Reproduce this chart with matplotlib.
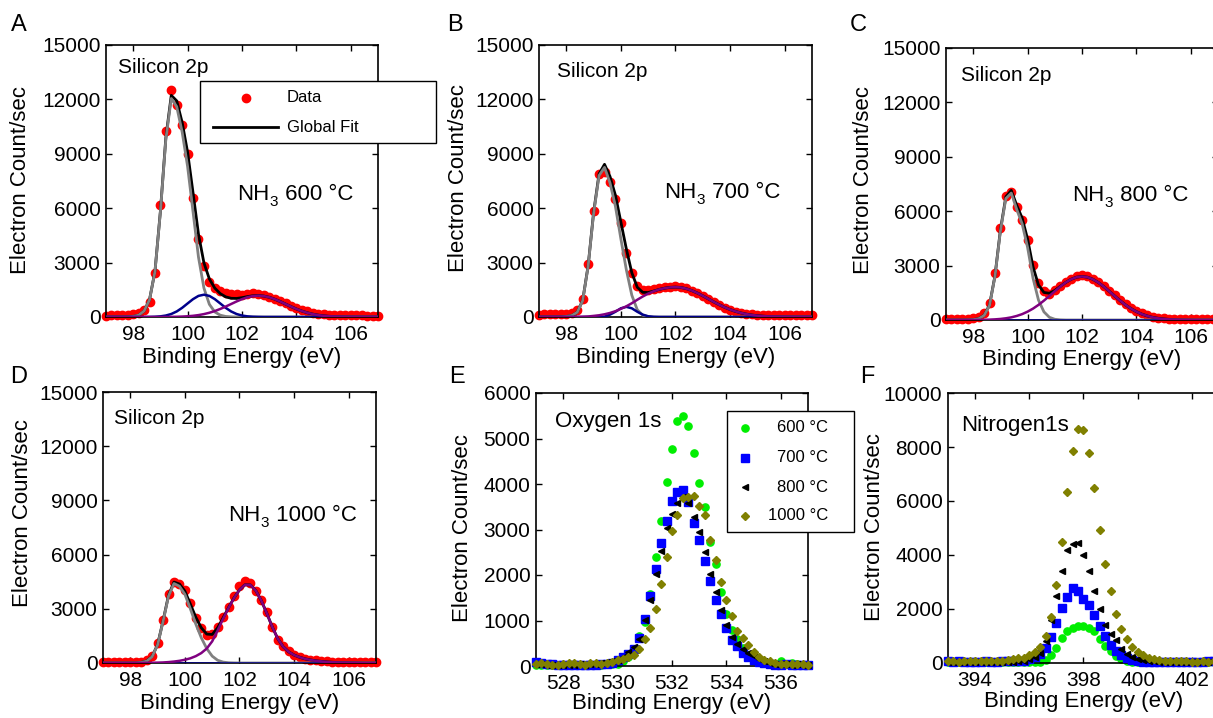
import numpy as np
import matplotlib
matplotlib.use("Agg")
import matplotlib.pyplot as plt
from matplotlib.patches import Rectangle
from matplotlib.lines import Line2D
from matplotlib.transforms import IdentityTransform

plt.rcParams['font.family'] = ['Liberation Sans', 'DejaVu Sans']

W, H = 1213, 718

# ---------------- energy axes (eV) ----------------
si_energy = np.round(np.arange(97.0, 107.01, 0.2), 1)
o_energy = np.round(np.arange(527.0, 537.01, 0.2), 1)
n_energy = np.round(np.arange(393.0, 403.01, 0.2), 1)

# ---------------- Silicon 2p, NH3 600 C ----------------
A_data = [80, 90, 100, 110, 130,
          160, 220, 370, 850, 2430,
          6200, 10250, 12500, 11670, 10580,
          8980, 6550, 4320, 2820, 1930,
          1600, 1420, 1330, 1280, 1250,
          1240, 1270, 1300, 1280, 1220,
          1120, 1000, 880, 750, 620,
          500, 400, 310, 240, 190,
          150, 130, 110, 100, 90,
          90, 85, 85, 80, 80,
          80]
A_gray = [0, 0, 0, 0, 5,
          30, 100, 330, 950, 2500,
          5800, 9800, 12050, 11600, 10200,
          8300, 5800, 3300, 1600, 700,
          280, 100, 30, 10, 0,
          0, 0, 0, 0, 0,
          0, 0, 0, 0, 0,
          0, 0, 0, 0, 0,
          0, 0, 0, 0, 0,
          0, 0, 0, 0, 0,
          0]
A_blue = [0, 0, 0, 0, 0,
          0, 0, 0, 5, 14,
          36, 81, 166, 306, 506,
          747, 985, 1164, 1230, 1164,
          985, 747, 506, 306, 166,
          81, 36, 14, 5, 0,
          0, 0, 0, 0, 0,
          0, 0, 0, 0, 0,
          0, 0, 0, 0, 0,
          0, 0, 0, 0, 0,
          0]
A_purple = [0, 0, 0, 0, 0,
            0, 0, 0, 0, 0,
            2, 4, 8, 13, 24,
            40, 66, 105, 160, 234,
            328, 443, 575, 716, 857,
            985, 1089, 1156, 1180, 1156,
            1089, 985, 857, 716, 575,
            443, 328, 234, 160, 105,
            66, 40, 24, 13, 7,
            3, 2, 1, 0, 0,
            0]

# ---------------- Silicon 2p, NH3 700 C ----------------
B_data = [130, 140, 140, 150, 150,
          170, 220, 380, 1000, 2950,
          5850, 7900, 8000, 7450, 6500,
          5200, 3550, 2400, 1700, 1500,
          1480, 1520, 1580, 1640, 1680,
          1700, 1680, 1590, 1450, 1300,
          1150, 980, 810, 660, 520,
          400, 300, 230, 180, 150,
          130, 120, 110, 110, 100,
          100, 100, 100, 100, 110,
          110]
B_gray = [0, 0, 0, 0, 5,
          30, 80, 260, 900, 2800,
          5700, 7800, 8250, 7400, 6100,
          4300, 2600, 1200, 400, 100,
          20, 0, 0, 0, 0,
          0, 0, 0, 0, 0,
          0, 0, 0, 0, 0,
          0, 0, 0, 0, 0,
          0, 0, 0, 0, 0,
          0, 0, 0, 0, 0,
          0]
B_blue = [0, 0, 0, 0, 0,
          0, 0, 0, 0, 0,
          0, 0, 20, 130, 290,
          480, 560, 480, 290, 130,
          40, 10, 0, 0, 0,
          0, 0, 0, 0, 0,
          0, 0, 0, 0, 0,
          0, 0, 0, 0, 0,
          0, 0, 0, 0, 0,
          0, 0, 0, 0, 0,
          0]
B_purple = [0, 0, 0, 0, 0,
            0, 0, 5, 15, 30,
            60, 95, 150, 223, 320,
            450, 590, 760, 950, 1130,
            1290, 1420, 1520, 1590, 1635,
            1650, 1627, 1561, 1455, 1322,
            1167, 1002, 835, 678, 536,
            411, 307, 223, 158, 109,
            73, 48, 30, 18, 11,
            6, 3, 0, 0, 0,
            0]

# ---------------- Silicon 2p, NH3 800 C ----------------
C_data = [60, 60, 60, 70, 70,
          90, 180, 370, 920, 2600,
          5100, 6850, 7050, 6250, 5500,
          4400, 3050, 2050, 1600, 1450,
          1650, 1880, 2100, 2280, 2400,
          2480, 2400, 2280, 2100, 1870,
          1620, 1360, 1100, 860, 660,
          490, 360, 260, 180, 130,
          100, 80, 70, 60, 60,
          50, 50, 60, 50, 50,
          50]
C_gray = [0, 0, 0, 0, 5,
          20, 70, 250, 800, 2400,
          4900, 6700, 7000, 6100, 5300,
          4000, 2300, 1100, 450, 150,
          40, 10, 0, 0, 0,
          0, 0, 0, 0, 0,
          0, 0, 0, 0, 0,
          0, 0, 0, 0, 0,
          0, 0, 0, 0, 0,
          0, 0, 0, 0, 0,
          0]
C_blue = [0] * 51
C_purple = [0, 0, 0, 0, 0,
            3, 6, 11, 20, 35,
            58, 94, 146, 223, 324,
            461, 629, 833, 1068, 1325,
            1586, 1843, 2069, 2246, 2362,
            2400, 2362, 2246, 2069, 1843,
            1586, 1325, 1068, 833, 629,
            461, 324, 223, 146, 94,
            58, 35, 20, 11, 6,
            3, 0, 0, 0, 0,
            0]

# ---------------- Silicon 2p, NH3 1000 C ----------------
D_data = [40, 40, 40, 40, 50,
          50, 60, 80, 160, 400,
          1100, 2400, 3800, 4500, 4380,
          4050, 3300, 2500, 1950, 1560,
          1600, 2000, 2550, 3100, 3700,
          4250, 4550, 4420, 4000, 3500,
          2850, 2000, 1300, 920, 640,
          460, 330, 240, 180, 140,
          110, 90, 80, 70, 60,
          60, 50, 50, 50, 50,
          50]
D_gray = [0, 0, 0, 0, 0,
          0, 0, 30, 100, 350,
          1000, 2300, 3700, 4400, 4250,
          3800, 3000, 2150, 1400, 800,
          380, 150, 50, 15, 5,
          0, 0, 0, 0, 0,
          0, 0, 0, 0, 0,
          0, 0, 0, 0, 0,
          0, 0, 0, 0, 0,
          0, 0, 0, 0, 0,
          0]
D_blue = [0] * 51
D_purple = [0, 0, 0, 0, 0,
            0, 0, 5, 10, 15,
            20, 30, 50, 80, 120,
            180, 260, 380, 550, 800,
            1200, 1800, 2450, 3050, 3600,
            4050, 4330, 4320, 4000, 3450,
            2750, 2000, 1350, 900, 620,
            440, 320, 230, 170, 120,
            90, 60, 40, 30, 20,
            15, 10, 5, 0, 0,
            0]

# ---------------- Oxygen 1s ----------------
O_600 = [30, 30, 25, 30, 20,
         20, 25, 20, 20, 25,
         20, 30, 30, 40, 50,
         40, 120, 200, 380, 650,
         970, 1580, 2400, 3190, 4050,
         4770, 5380, 5490, 5280, 4680,
         4020, 3500, 2720, 2240, 1630,
         1150, 800, 600, 400, 250,
         170, 120, 90, 60, 50,
         120, 50, 60, 40, 30,
         30]
O_700 = [80, 70, 40, 50, 30,
         20, 20, 30, 20, 20,
         30, 20, 40, 50, 65,
         125, 200, 270, 380, 617,
         1040, 1530, 2130, 2710, 3190,
         3630, 3820, 3860, 3600, 3150,
         2770, 2310, 1870, 1450, 1140,
         845, 565, 440, 290, 200,
         140, 90, 60, 40, 30,
         30, 40, 30, 30, 30,
         20]
O_800 = [40, 40, 30, 30, 30,
         30, 30, 30, 40, 30,
         40, 50, 60, 80, 100,
         140, 200, 300, 420, 600,
         1020, 1460, 2030, 2530, 3030,
         3340, 3580, 3720, 3580, 3270,
         2940, 2510, 2020, 1630, 1230,
         900, 640, 490, 380, 290,
         220, 150, 100, 70, 50,
         40, 40, 30, 40, 30,
         30]
O_1000 = [50, 60, 40, 30, 30,
          40, 60, 70, 40, 30,
          60, 60, 50, 70, 90,
          130, 150, 200, 235, 380,
          600, 845, 1260, 1800, 2390,
          2970, 3320, 3700, 3710, 3740,
          3520, 3320, 2780, 2340, 1840,
          1450, 1090, 765, 620, 455,
          300, 200, 140, 100, 60,
          50, 50, 40, 50, 40,
          30]

# ---------------- Nitrogen 1s ----------------
N_600 = [30, 40, 30, 20, 30,
         30, 40, 30, 30, 20,
         30, 30, 40, 30, 30,
         30, 30, 50, 100, 310,
         555, 920, 1170, 1290, 1380,
         1380, 1290, 1170, 890, 640,
         430, 270, 150, 60, 40,
         30, 30, 40, 30, 30,
         20, 30, 30, 40, 30,
         30, 30, 20, 30, 30,
         30]
N_700 = [60, 50, 60, 50, 40,
         50, 50, 60, 50, 50,
         60, 60, 70, 80, 90,
         130, 220, 350, 560, 950,
         1500, 2050, 2460, 2770, 2670,
         2370, 2130, 1760, 1355, 985,
         680, 430, 310, 185, 120,
         60, 50, 50, 40, 50,
         50, 40, 50, 50, 40,
         50, 40, 50, 60, 60,
         60]
N_800 = [40, 30, 40, 40, 30,
         40, 40, 30, 40, 40,
         40, 50, 50, 60, 80,
         130, 220, 380, 800, 1600,
         2500, 3400, 4200, 4400, 4430,
         4000, 3400, 2650, 2000, 1420,
         1070, 840, 520, 345, 220,
         150, 100, 80, 60, 50,
         40, 40, 40, 30, 40,
         40, 30, 40, 40, 30,
         40]
N_1000 = [60, 60, 50, 60, 60,
          70, 60, 60, 70, 70,
          80, 100, 130, 170, 200,
          280, 420, 590, 985, 1720,
          2900, 4470, 6320, 7860, 8650,
          8620, 7760, 6470, 4930, 3670,
          2650, 1820, 1260, 890, 580,
          390, 280, 200, 140, 100,
          80, 70, 60, 60, 60,
          50, 50, 60, 50, 60,
          60]

si_xticks = [98, 100, 102, 104, 106]
si_yticks = [0, 3000, 6000, 9000, 12000, 15000]
o_xticks = [528, 530, 532, 534, 536]
o_yticks = [0, 1000, 2000, 3000, 4000, 5000, 6000]
n_xticks = [394, 396, 398, 400, 402]
n_yticks = [0, 2000, 4000, 6000, 8000, 10000]

temps = ['600 \u00b0C', '700 \u00b0C', '800 \u00b0C', '1000 \u00b0C']
panel_letters = ['A', 'B', 'C', 'D', 'E', 'F']

# ---------------- figure ----------------
fig = plt.figure(figsize=(W / 100, H / 100), dpi=100)


def add_ax(l, t, r, b):
    return fig.add_axes([l / W, 1 - b / H, (r - l) / W, (b - t) / H])


def px_to_ax(ax, px, py):
    pos = ax.get_position()
    return ((px / W - pos.x0) / pos.width, ((1 - py / H) - pos.y0) / pos.height)


def style(ax, xlim, ylim, xticks, yticks, ylab_px, xlab_py):
    ax.set_xlim(*xlim)
    ax.set_ylim(*ylim)
    ax.set_xticks(xticks)
    ax.set_yticks(yticks)
    ax.tick_params(direction='in', top=True, right=True, length=4, width=1,
                   labelsize=15, colors='black')
    ax.tick_params(axis='x', pad=5.5)
    ax.tick_params(axis='y', pad=4)
    for s in ax.spines.values():
        s.set_linewidth(1.2)
    ax.set_ylabel('Electron Count/sec', fontsize=16, va='center')
    ax.set_xlabel('Binding Energy (eV)', fontsize=16, va='center')
    ax.yaxis.set_label_coords(*px_to_ax(ax, ylab_px[0], ylab_px[1]))
    pos = ax.get_position()
    cx = (pos.x0 + pos.width / 2) * W
    ax.xaxis.set_label_coords(*px_to_ax(ax, cx, xlab_py))


def text_px(ax, px, py, s, size):
    x, y = px_to_ax(ax, px, py)
    return ax.text(x, y, s, transform=ax.transAxes, fontsize=size, ha='left',
                   va='baseline')


def nh3_label(ax, px, py, temp):
    # "NH" + subscript "3" + temperature, laid out in display pixels
    renderer = fig.canvas.get_renderer()
    t1 = fig.text(0, 0, 'NH', fontsize=16, ha='left', va='baseline',
                  transform=IdentityTransform())
    t1.set_position((px, H - py))
    w1 = t1.get_window_extent(renderer).width
    t2 = fig.text(0, 0, '3', fontsize=11, ha='left', va='baseline',
                  transform=IdentityTransform())
    t2.set_position((px + w1 + 0.5, H - py - 6))
    w2 = t2.get_window_extent(renderer).width
    t3 = fig.text(0, 0, ' ' + temp, fontsize=16, ha='left', va='baseline',
                  transform=IdentityTransform())
    t3.set_position((px + w1 + w2 + 1, H - py))


def si_panel(ax, data, gray, blue, purple):
    fit = np.array(gray) + np.array(blue) + np.array(purple)
    ax.plot(si_energy, data, 'o', color='#ff0000', ms=6.0, mec='#ff0000',
            clip_on=False, zorder=2)
    ax.plot(si_energy, fit, color='black', lw=2.0, zorder=3)
    ax.plot(si_energy, gray, color='#808080', lw=2.0, zorder=4)
    ax.plot(si_energy, blue, color='#00008b', lw=1.8, zorder=5)
    ax.plot(si_energy, purple, color='#800080', lw=1.8, zorder=6)


axA = add_ax(106, 45, 378, 317)
axB = add_ax(539, 45, 812, 317)
axC = add_ax(946, 48, 1218, 320)
axD = add_ax(103, 392, 376, 663)
axE = add_ax(536, 393, 808, 666)
axF = add_ax(948, 393, 1219, 663)

si_sets = [(axA, A_data, A_gray, A_blue, A_purple),
           (axB, B_data, B_gray, B_blue, B_purple),
           (axC, C_data, C_gray, C_blue, C_purple),
           (axD, D_data, D_gray, D_blue, D_purple)]
for ax, d, g, b, p in si_sets:
    si_panel(ax, d, g, b, p)

style(axA, (97, 107), (0, 15000), si_xticks, si_yticks, (20, 180), 357)
style(axB, (97, 107), (0, 15000), si_xticks, si_yticks, (458, 178), 357)
style(axC, (97, 107), (0, 15000), si_xticks, si_yticks, (864, 180), 360)
style(axD, (97, 107), (0, 15000), si_xticks, si_yticks, (23, 513), 703)
style(axE, (527, 537), (0, 6000), o_xticks, o_yticks, (463, 528), 704)
style(axF, (393, 403), (0, 10000), n_xticks, n_yticks, (875, 527), 702)

# panel annotations
text_px(axA, 118, 73, 'Silicon 2p', 15)
text_px(axB, 557, 77, 'Silicon 2p', 15)
text_px(axC, 961, 81, 'Silicon 2p', 15)
text_px(axD, 114, 424, 'Silicon 2p', 15)
text_px(axE, 555, 427, 'Oxygen 1s', 16)
text_px(axF, 961, 431, 'Nitrogen1s', 16)
nh3_label(axA, 237, 200, temps[0])
nh3_label(axB, 664, 198, temps[1])
nh3_label(axC, 1072, 201, temps[2])
nh3_label(axD, 228, 521, temps[3])

# scatter series for O 1s and N 1s
styles = [dict(marker='o', color='#00ee00', ms=5.2),
          dict(marker='s', color='#0000ff', ms=6.0),
          dict(marker='<', color='black', ms=5.0),
          dict(marker='D', color='#808000', ms=3.8)]
for ax, energy, series in [(axE, o_energy, [O_600, O_700, O_800, O_1000]),
                           (axF, n_energy, [N_600, N_700, N_800, N_1000])]:
    for i, (vals, st) in enumerate(zip(series, styles)):
        ax.plot(energy, vals, ls='none', marker=st['marker'], ms=st['ms'],
                color=st['color'], mec=st['color'], clip_on=False, zorder=2 + i)

# panel letters
for letter, (px, py) in zip(panel_letters, [(19, 25), (455, 25), (858, 25),
                                            (19, 377), (457, 377), (867, 377)]):
    fig.text(px / W, 1 - py / H, letter, fontsize=17, ha='center', va='center')


# ---------------- legend A ----------------
def fx(px):
    return px / W


def fy(py):
    return 1 - py / H


fig.add_artist(Rectangle((fx(200), fy(143)), (436 - 200) / W, (143 - 81) / H,
                         transform=fig.transFigure, facecolor='white',
                         edgecolor='black', lw=1.0, zorder=5))
fig.add_artist(Line2D([fx(246)], [fy(98)], marker='o', ls='none', color='#ff0000',
                      ms=6.0, transform=fig.transFigure, zorder=6))
fig.add_artist(Line2D([fx(213), fx(278)], [fy(127), fy(127)], color='black',
                      lw=2.0, transform=fig.transFigure, zorder=6))
fig.text(fx(287), fy(98), 'Data', fontsize=12, ha='left', va='center', zorder=7)
fig.text(fx(287), fy(127), 'Global Fit', fontsize=12, ha='left', va='center',
         zorder=7)

# ---------------- legend E ----------------
fig.add_artist(Rectangle((fx(727), fy(532)), (854 - 727) / W, (532 - 411) / H,
                         transform=fig.transFigure, facecolor='white',
                         edgecolor='black', lw=1.0, zorder=5))
for st, lab, py in zip(styles, temps, [428, 458, 487, 516]):
    fig.add_artist(Line2D([fx(745)], [fy(py)], marker=st['marker'], ls='none',
                          color=st['color'], mec=st['color'], ms=st['ms'],
                          transform=fig.transFigure, zorder=6))
    fig.text(fx(828), fy(py), lab, fontsize=12, ha='right', va='center', zorder=7)

fig.savefig('out.png', dpi=100)
